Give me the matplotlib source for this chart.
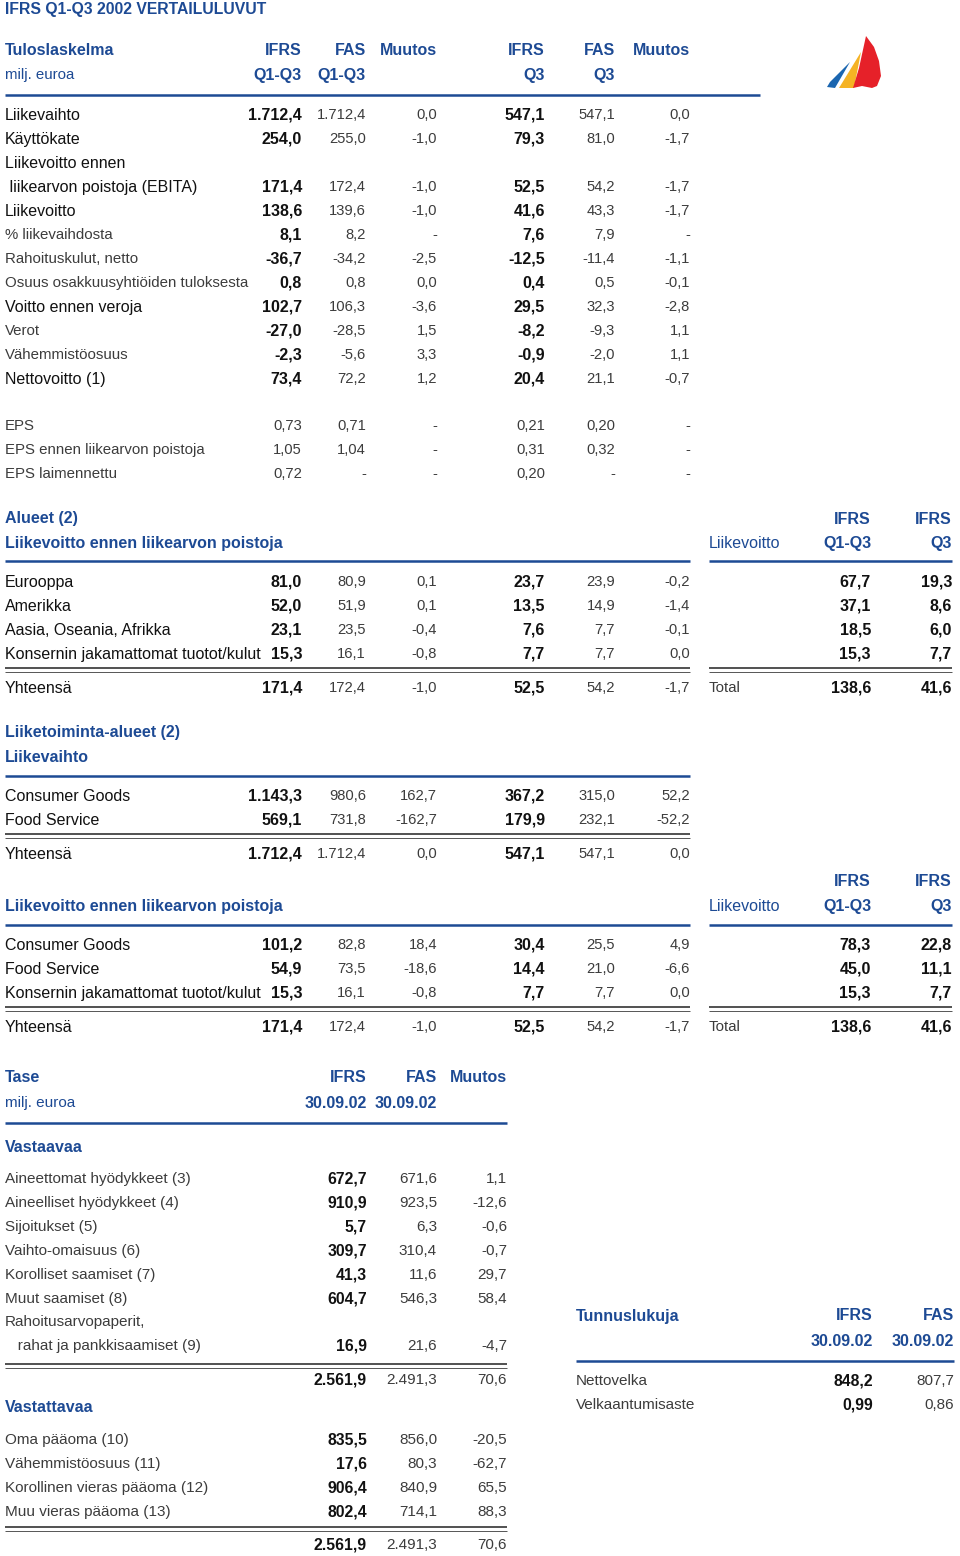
import matplotlib.pyplot as plt
from matplotlib.patches import Polygon

BLUE = '#1d4a94'
DARK = '#111111'
LIGHT = '#3c3c3c'
NARROW = ['Liberation Sans Narrow', 'Liberation Sans', 'DejaVu Sans']
WIDE = ['Liberation Sans', 'DejaVu Sans']

# --- Tuloslaskelma ---------------------------------------------------------
income_labels = ['Liikevaihto', 'Käyttökate', 'Liikevoitto ennen',
                 ' liikearvon poistoja (EBITA)', 'Liikevoitto', '% liikevaihdosta',
                 'Rahoituskulut, netto', 'Osuus osakkuusyhtiöiden tuloksesta',
                 'Voitto ennen veroja', 'Verot', 'Vähemmistöosuus', 'Nettovoitto (1)']
income_strong = [True, True, True, True, True, False, False, False, True, False, False, True]
income_ifrs_q13 = [1712.4, 254.0, None, 171.4, 138.6, 8.1, -36.7, 0.8, 102.7, -27.0, -2.3, 73.4]
income_fas_q13 = [1712.4, 255.0, None, 172.4, 139.6, 8.2, -34.2, 0.8, 106.3, -28.5, -5.6, 72.2]
income_chg_q13 = [0.0, -1.0, None, -1.0, -1.0, '-', -2.5, 0.0, -3.6, 1.5, 3.3, 1.2]
income_ifrs_q3 = [547.1, 79.3, None, 52.5, 41.6, 7.6, -12.5, 0.4, 29.5, -8.2, -0.9, 20.4]
income_fas_q3 = [547.1, 81.0, None, 54.2, 43.3, 7.9, -11.4, 0.5, 32.3, -9.3, -2.0, 21.1]
income_chg_q3 = [0.0, -1.7, None, -1.7, -1.7, '-', -1.1, -0.1, -2.8, 1.1, 1.1, -0.7]

eps_labels = ['EPS', 'EPS ennen liikearvon poistoja', 'EPS laimennettu']
eps_ifrs_q13 = [0.73, 1.05, 0.72]
eps_fas_q13 = [0.71, 1.04, '-']
eps_chg_q13 = ['-', '-', '-']
eps_ifrs_q3 = [0.21, 0.31, 0.20]
eps_fas_q3 = [0.20, 0.32, '-']
eps_chg_q3 = ['-', '-', '-']

# --- Alueet ----------------------------------------------------------------
area_labels = ['Eurooppa', 'Amerikka', 'Aasia, Oseania, Afrikka',
               'Konsernin jakamattomat tuotot/kulut', 'Yhteensä']
area_ifrs_q13 = [81.0, 52.0, 23.1, 15.3, 171.4]
area_fas_q13 = [80.9, 51.9, 23.5, 16.1, 172.4]
area_chg_q13 = [0.1, 0.1, -0.4, -0.8, -1.0]
area_ifrs_q3 = [23.7, 13.5, 7.6, 7.7, 52.5]
area_fas_q3 = [23.9, 14.9, 7.7, 7.7, 54.2]
area_chg_q3 = [-0.2, -1.4, -0.1, 0.0, -1.7]
area_ebit_q13 = [67.7, 37.1, 18.5, 15.3, 138.6]
area_ebit_q3 = [19.3, 8.6, 6.0, 7.7, 41.6]

# --- Liiketoiminta-alueet: liikevaihto -------------------------------------
seg_labels = ['Consumer Goods', 'Food Service', 'Yhteensä']
seg_rev_ifrs_q13 = [1143.3, 569.1, 1712.4]
seg_rev_fas_q13 = [980.6, 731.8, 1712.4]
seg_rev_chg_q13 = [162.7, -162.7, 0.0]
seg_rev_ifrs_q3 = [367.2, 179.9, 547.1]
seg_rev_fas_q3 = [315.0, 232.1, 547.1]
seg_rev_chg_q3 = [52.2, -52.2, 0.0]

# --- Liiketoiminta-alueet: EBITA -------------------------------------------
seg2_labels = ['Consumer Goods', 'Food Service',
               'Konsernin jakamattomat tuotot/kulut', 'Yhteensä']
seg_ebita_ifrs_q13 = [101.2, 54.9, 15.3, 171.4]
seg_ebita_fas_q13 = [82.8, 73.5, 16.1, 172.4]
seg_ebita_chg_q13 = [18.4, -18.6, -0.8, -1.0]
seg_ebita_ifrs_q3 = [30.4, 14.4, 7.7, 52.5]
seg_ebita_fas_q3 = [25.5, 21.0, 7.7, 54.2]
seg_ebita_chg_q3 = [4.9, -6.6, 0.0, -1.7]
seg_ebit_q13 = [78.3, 45.0, 15.3, 138.6]
seg_ebit_q3 = [22.8, 11.1, 7.7, 41.6]

# --- Tase ------------------------------------------------------------------
assets_labels = ['Aineettomat hyödykkeet (3)', 'Aineelliset hyödykkeet (4)',
                 'Sijoitukset (5)', 'Vaihto-omaisuus (6)', 'Korolliset saamiset (7)',
                 'Muut saamiset (8)', 'Rahoitusarvopaperit,',
                 '   rahat ja pankkisaamiset (9)']
assets_ifrs = [672.7, 910.9, 5.7, 309.7, 41.3, 604.7, None, 16.9]
assets_fas = [671.6, 923.5, 6.3, 310.4, 11.6, 546.3, None, 21.6]
assets_chg = [1.1, -12.6, -0.6, -0.7, 29.7, 58.4, None, -4.7]
assets_total = [2561.9, 2491.3, 70.6]

liab_labels = ['Oma pääoma (10)', 'Vähemmistöosuus (11)',
               'Korollinen vieras pääoma (12)', 'Muu vieras pääoma (13)']
liab_ifrs = [835.5, 17.6, 906.4, 802.4]
liab_fas = [856.0, 80.3, 840.9, 714.1]
liab_chg = [-20.5, -62.7, 65.5, 88.3]
liab_total = [2561.9, 2491.3, 70.6]

key_labels = ['Nettovelka', 'Velkaantumisaste']
key_ifrs = [848.2, 0.99]
key_fas = [807.7, 0.86]
key_decimals = [1, 2]


def fmt(v, nd=1):
    if v is None:
        return ''
    if isinstance(v, str):
        return v
    s = f"{abs(v):,.{nd}f}".replace(',', 'X').replace('.', ',').replace('X', '.')
    return ('-' + s) if v < 0 else s


fig = plt.figure(figsize=(9.6, 15.56), dpi=100)
ax = fig.add_axes([0, 0, 1, 1])
ax.set_xlim(0, 960)
ax.set_ylim(1556, 0)
ax.axis('off')


def put(x, y, s, ha='left', color=DARK, bold=False, wide=False, size=11.5):
    ax.text(x, y, s, ha=ha, va='center', color=color, fontsize=size,
            fontweight='bold' if bold else 'normal', family=WIDE if wide else NARROW)


def hline(x0, x1, y, color=BLUE, lw=1.8):
    ax.plot([x0, x1], [y, y], color=color, lw=lw, solid_capstyle='butt')


def dline(x0, x1, y):
    hline(x0, x1, y, color='#222222', lw=1.1)
    hline(x0, x1, y + 4, color='#555555', lw=0.7)


def value_row(y, cols, vals, strong, nd=1, narrow=True):
    # first column of each block is IFRS (dark), the rest lighter
    for i, (x, v) in enumerate(zip(cols, vals)):
        dark = strong and i in (0, 3)
        if dark:
            put(x, y, fmt(v, nd), ha='right', color=DARK, bold=True,
                wide=not narrow, size=11.5)
        else:
            put(x, y, fmt(v, nd), ha='right', color=LIGHT, wide=True, size=10.6)


cols6 = [302, 366, 437, 545, 615, 690]

# title and logo
put(5, 9, 'IFRS Q1-Q3 2002 VERTAILULUVUT', color=BLUE, bold=True, size=11.3)
ax.add_patch(Polygon([(850, 62), (835, 88), (827, 87), (830, 82)], color='#1b66b0', lw=0))
ax.add_patch(Polygon([(861, 52), (854, 88), (839, 88)], color='#f5b324', lw=0))
ax.add_patch(Polygon([(866, 36), (874, 47), (879, 61), (881, 76), (877, 86), (872, 88),
                      (862, 86), (853, 88), (859, 68)], color='#e62129', lw=0))

# income statement header
put(5, 50, 'Tuloslaskelma', color=BLUE, bold=True)
put(5, 75, 'milj. euroa', color=BLUE, wide=True, size=10.8)
for x, a, b in zip(cols6, ['IFRS', 'FAS', 'Muutos', 'IFRS', 'FAS', 'Muutos'],
                   ['Q1-Q3', 'Q1-Q3', '', 'Q3', 'Q3', '']):
    put(x, 50, a, ha='right', color=BLUE, bold=True)
    put(x, 75, b, ha='right', color=BLUE, bold=True)
hline(5, 760, 95)

for i, lab in enumerate(income_labels):
    y = 115 + 24 * i
    st = income_strong[i]
    put(5, y, lab, color=DARK if st else LIGHT, wide=not st, size=11.5 if st else 10.8)
    vals = [income_ifrs_q13[i], income_fas_q13[i], income_chg_q13[i],
            income_ifrs_q3[i], income_fas_q3[i], income_chg_q3[i]]
    value_row(y, cols6, vals, True, narrow=st)

for i, lab in enumerate(eps_labels):
    y = 426 + 24 * i
    put(5, y, lab, color=LIGHT, wide=True, size=10.8)
    vals = [eps_ifrs_q13[i], eps_fas_q13[i], eps_chg_q13[i],
            eps_ifrs_q3[i], eps_fas_q3[i], eps_chg_q3[i]]
    value_row(y, cols6, vals, False, nd=2)


def side_header(y_top, y_sub):
    put(871, y_top, 'IFRS', ha='right', color=BLUE, bold=True)
    put(952, y_top, 'IFRS', ha='right', color=BLUE, bold=True)
    put(709, y_sub, 'Liikevoitto', color=BLUE)
    put(871, y_sub, 'Q1-Q3', ha='right', color=BLUE, bold=True)
    put(952, y_sub, 'Q3', ha='right', color=BLUE, bold=True)


def block(y0, labels, cols_vals, side=None, total_gap=34):
    n = len(labels)
    for i, lab in enumerate(labels):
        last = i == n - 1
        y = y0 + 24 * i + (total_gap - 24 if last else 0)
        put(5, y, lab)
        value_row(y, cols6, [c[i] for c in cols_vals], True)
        if side is not None:
            if last:
                put(709, y, 'Total', color=LIGHT, wide=True, size=10.8)
            put(871, y, fmt(side[0][i]), ha='right', bold=True)
            put(952, y, fmt(side[1][i]), ha='right', bold=True)
    yd = y0 + 24 * (n - 2) + 14
    dline(5, 690, yd)
    if side is not None:
        dline(709, 952, yd)


# areas
put(5, 518, 'Alueet (2)', color=BLUE, bold=True)
put(5, 543, 'Liikevoitto ennen liikearvon poistoja', color=BLUE, bold=True)
side_header(519, 543)
hline(5, 690, 561)
hline(709, 952, 561)
block(582, area_labels, [area_ifrs_q13, area_fas_q13, area_chg_q13,
                         area_ifrs_q3, area_fas_q3, area_chg_q3],
      side=[area_ebit_q13, area_ebit_q3])

# segments revenue
put(5, 732, 'Liiketoiminta-alueet (2)', color=BLUE, bold=True)
put(5, 757, 'Liikevaihto', color=BLUE, bold=True)
hline(5, 690, 776)
block(796, seg_labels, [seg_rev_ifrs_q13, seg_rev_fas_q13, seg_rev_chg_q13,
                        seg_rev_ifrs_q3, seg_rev_fas_q3, seg_rev_chg_q3])

# segments EBITA
put(5, 906, 'Liikevoitto ennen liikearvon poistoja', color=BLUE, bold=True)
side_header(881, 906)
hline(5, 690, 925)
hline(709, 952, 925)
block(945, seg2_labels, [seg_ebita_ifrs_q13, seg_ebita_fas_q13, seg_ebita_chg_q13,
                         seg_ebita_ifrs_q3, seg_ebita_fas_q3, seg_ebita_chg_q3],
      side=[seg_ebit_q13, seg_ebit_q3])

# balance sheet
cols3 = [367, 437, 507]
HB = 11.5   # bold wide headings
put(5, 1078, 'Tase', color=BLUE, bold=True, wide=True, size=HB)
put(5, 1103, 'milj. euroa', color=BLUE, wide=True, size=11)
for x, a, b in zip(cols3, ['IFRS', 'FAS', 'Muutos'], ['30.09.02', '30.09.02', '']):
    put(x, 1078, a, ha='right', color=BLUE, bold=True, wide=True, size=HB)
    put(x, 1103, b, ha='right', color=BLUE, bold=True, wide=True, size=HB)
hline(5, 507, 1123)
put(5, 1147, 'Vastaavaa', color=BLUE, bold=True, wide=True, size=HB)


def bs_row(y, lab, vals, nd=1, cols=cols3):
    put(5 if cols is cols3 else 576, y, lab, color=LIGHT, wide=True, size=11)
    for j, (x, v) in enumerate(zip(cols, vals)):
        put(x, y, fmt(v, nd), ha='right', color=DARK if j == 0 else LIGHT,
            bold=(j == 0), wide=True, size=11.3 if j == 0 else 11)


for i, lab in enumerate(assets_labels):
    y = 1179 + 24 * i - (1 if i >= 6 else 0)
    bs_row(y, lab, [assets_ifrs[i], assets_fas[i], assets_chg[i]])
dline(5, 507, 1364)
bs_row(1380, '', assets_total)

put(5, 1407, 'Vastattavaa', color=BLUE, bold=True, wide=True, size=HB)
for i, lab in enumerate(liab_labels):
    bs_row(1440 + 24 * i, lab, [liab_ifrs[i], liab_fas[i], liab_chg[i]])
dline(5, 507, 1527)
bs_row(1545, '', liab_total)

# key figures
cols_k = [873, 954]
put(576, 1316, 'Tunnuslukuja', color=BLUE, bold=True, wide=True, size=HB)
for x, a in zip(cols_k, ['IFRS', 'FAS']):
    put(x, 1316, a, ha='right', color=BLUE, bold=True, wide=True, size=HB)
    put(x, 1341, '30.09.02', ha='right', color=BLUE, bold=True, wide=True, size=HB)
hline(576, 954, 1361)
for i, lab in enumerate(key_labels):
    bs_row(1381 + 24 * i, lab, [key_ifrs[i], key_fas[i]], nd=key_decimals[i], cols=cols_k)

fig.savefig('out.png', dpi=100, facecolor='white')
